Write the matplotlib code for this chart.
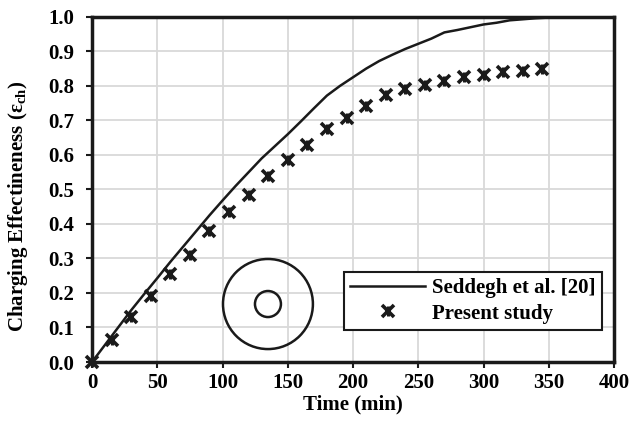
import matplotlib
matplotlib.use("Agg")
import matplotlib.pyplot as plt
from matplotlib.patches import Ellipse
from matplotlib.legend_handler import HandlerTuple

plt.rcParams['font.family'] = ['Liberation Serif', 'DejaVu Serif']
plt.rcParams['font.weight'] = 'bold'
plt.rcParams['mathtext.fontset'] = 'stix'

# Seddegh et al. [20] curve
ref_time = [0, 10, 20, 30, 40, 50, 60, 70, 80, 90, 100, 110, 120, 130, 140, 150,
            160, 170, 180, 190, 200, 210, 220, 230, 240, 250, 260, 270, 280, 290,
            300, 310, 320, 330, 340, 350, 360, 370, 380, 390, 400]
ref_eff = [0.0, 0.05, 0.10, 0.15, 0.197, 0.243, 0.29, 0.335, 0.38, 0.425, 0.468,
           0.51, 0.55, 0.59, 0.625, 0.66, 0.697, 0.735, 0.772, 0.80, 0.825, 0.85,
           0.872, 0.89, 0.907, 0.922, 0.937, 0.955, 0.962, 0.97, 0.978, 0.983,
           0.99, 0.993, 0.996, 0.998, 1.0, 1.0, 1.0, 1.0, 1.0]

# Present study
study_time = [0, 15, 30, 45, 60, 75, 90, 105, 120, 135, 150, 165, 180, 195, 210,
              225, 240, 255, 270, 285, 300, 315, 330, 345]
study_eff = [0.0, 0.065, 0.13, 0.19, 0.255, 0.31, 0.38, 0.435, 0.485, 0.54, 0.585,
             0.63, 0.675, 0.708, 0.742, 0.774, 0.79, 0.802, 0.813, 0.826, 0.832,
             0.84, 0.844, 0.85]

fig = plt.figure(figsize=(6.32, 4.24), dpi=100)
ax = fig.add_axes([0.1456, 0.1462, 0.826, 0.814])

ax.grid(True, color='#d9d9d9', linewidth=1.3)
ax.set_axisbelow(True)

line, = ax.plot(ref_time, ref_eff, color='#1a1a1a', linewidth=1.8, zorder=3)
m1, = ax.plot(study_time, study_eff, linestyle='none', marker='x', markersize=9,
              markeredgewidth=2.6, color='#1a1a1a', zorder=4, clip_on=False)
m2, = ax.plot(study_time, study_eff, linestyle='none', marker='|', markersize=7,
              markeredgewidth=2.2, color='#1a1a1a', zorder=4, clip_on=False)

# inset geometry sketch (annulus)
ax.add_patch(Ellipse((134.8, 0.168), 68.9, 0.261, fill=False, edgecolor='#1a1a1a',
                     linewidth=1.8, zorder=3))
ax.add_patch(Ellipse((134.8, 0.168), 19.9, 0.0754, fill=False, edgecolor='#1a1a1a',
                     linewidth=1.8, zorder=3))

ax.set_xlim(0, 400)
ax.set_ylim(0, 1.0)
ax.set_xticks(range(0, 401, 50))
ax.set_yticks([i / 10 for i in range(11)])
ax.set_yticklabels([f'{i / 10:.1f}' for i in range(11)])
ax.tick_params(labelsize=15, length=4, width=1.5, direction='out', color='#1a1a1a')
ax.tick_params(axis='x', pad=4)
ax.tick_params(axis='y', pad=9)

for s in ax.spines.values():
    s.set_linewidth(2.5)
    s.set_color('#1a1a1a')

ax.set_xlabel('Time (min)', fontsize=15, fontweight='bold', labelpad=1)
ax.set_ylabel(r'Charging Effectineness ($\mathregular{\varepsilon_{ch}}$)',
              fontsize=15, fontweight='bold')
ax.yaxis.set_label_coords(-0.118, 0.45)

leg = ax.legend([line, (m1, m2)], ['Seddegh et al. [20]', 'Present study'],
                handler_map={tuple: HandlerTuple(ndivide=1, pad=0)},
                loc='lower right', bbox_to_anchor=(0.977, 0.093), borderaxespad=0,
                fontsize=15, frameon=True, fancybox=False, edgecolor='#1a1a1a',
                handlelength=3.6, handletextpad=0.35, borderpad=0.3,
                labelspacing=0.25)
leg.get_frame().set_linewidth(1.5)
leg.get_frame().set_alpha(1)

fig.savefig('out.png', dpi=100)
